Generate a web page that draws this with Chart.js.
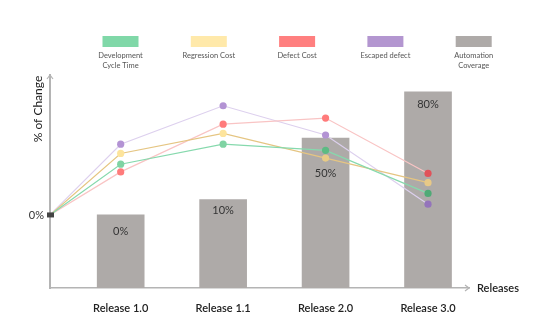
<!DOCTYPE html>
<html>
<head>
<meta charset="utf-8">
<script src="https://cdn.jsdelivr.net/npm/chart.js@4"></script>
<style>
    html, body { margin: 0; padding: 0; background: #fff; }
    #wrap { width: 552px; height: 330px; }
</style>
</head>
<body>
<div id="wrap"><canvas id="releaseChart" width="552" height="330"></canvas></div>
<script>
// Release data
const releases = ['Release 1.0', 'Release 1.1', 'Release 2.0', 'Release 3.0'];
const releaseX = [1, 2, 3, 4];
const startX = 0.31;                       // lines leave from the y axis
const coverage = [0, 10, 50, 80];          // automation coverage (%)
const devCycleTime = [0, 33, 46, 42, 14];
const regressionCost = [0, 40, 53, 37, 21];
const defectCost = [0, 28, 59, 63, 27];
const escapedDefect = [0, 46, 71, 52, 7];
const legendLabels = [['Development', 'Cycle Time'], ['Regression Cost'], ['Defect Cost'], ['Escaped defect'], ['Automation', 'Coverage']];

const Y_MIN = -47.5;
const Y_MAX = 91;
const FONT = 'Lato, "Open Sans", sans-serif';

const colors = {
    dev: { legend: '#80d8a8', line: '#86d9ad', points: ['#7fd3a3', '#7fd3a3', '#5cbb83', '#4faa76'] },
    regression: { legend: '#ffe9aa', line: '#e5c582', points: ['#fde49c', '#fde49c', '#e8cb86', '#e8c987'] },
    defect: { legend: '#ff7f7f', line: '#f9c4c4', points: ['#ff7b7b', '#ff7b7b', '#ff7b7b', '#e0525a'] },
    escaped: { legend: '#b396d0', line: '#ddd0ee', points: ['#b393d4', '#b393d4', '#b393d4', '#9474bb'] },
    bar: '#aeaaa8'
};

function lineData(values) {
    const xs = [startX, ...releaseX];
    return xs.map((x, i) => ({ x, y: values[i] }));
}

function lineDataset(label, values, c, order) {
    return {
        type: 'line',
        label,
        data: lineData(values),
        borderColor: c.line,
        borderWidth: 1.2,
        pointRadius: [0, 3.6, 3.6, 3.6, 3.6],
        pointBackgroundColor: ['transparent', ...c.points],
        pointBorderWidth: 0,
        tension: 0,
        order
    };
}

const barLabelOffsets = [17, 11, 35, 13];

const decorations = {
    id: 'decorations',
    afterDatasetsDraw(chart) {
        const { ctx, chartArea, scales } = chart;
        const x = scales.x, y = scales.y;
        ctx.save();

        // values on the coverage bars
        ctx.font = '11px ' + FONT;
        ctx.fillStyle = '#333';
        ctx.textAlign = 'center';
        ctx.textBaseline = 'middle';
        coverage.forEach((v, i) => {
            ctx.fillText(v + '%', x.getPixelForValue(releaseX[i]), y.getPixelForValue(v) + barLabelOffsets[i]);
        });

        // marker at the origin
        const oy = y.getPixelForValue(0);
        ctx.fillStyle = '#444';
        ctx.fillRect(chartArea.left - 3, oy - 2.5, 7, 5);
        ctx.font = '11px ' + FONT;
        ctx.fillStyle = '#333';
        ctx.textAlign = 'right';
        ctx.fillText('0%', chartArea.left - 6, oy + 1);

        // arrow heads
        ctx.strokeStyle = '#b4b4b4';
        ctx.lineWidth = 1.2;
        ctx.beginPath();
        ctx.moveTo(chartArea.left - 3, chartArea.top + 4);
        ctx.lineTo(chartArea.left, chartArea.top);
        ctx.lineTo(chartArea.left + 3, chartArea.top + 4);
        ctx.moveTo(chartArea.right - 4, chartArea.bottom - 3);
        ctx.lineTo(chartArea.right, chartArea.bottom);
        ctx.lineTo(chartArea.right - 4, chartArea.bottom + 3);
        ctx.stroke();

        // axis titles
        ctx.fillStyle = '#222';
        ctx.font = '600 11px ' + FONT;
        ctx.textAlign = 'left';
        ctx.fillText('Releases', chartArea.right + 8, chartArea.bottom);
        ctx.save();
        ctx.translate(38, 109);
        ctx.rotate(-Math.PI / 2);
        ctx.textAlign = 'center';
        ctx.font = '12px ' + FONT;
        ctx.fillText('% of Change', 0, 0);
        ctx.restore();

        // legend
        const swatches = [colors.dev.legend, colors.regression.legend, colors.defect.legend, colors.escaped.legend, colors.bar];
        ctx.font = '7.5px ' + FONT;
        ctx.textAlign = 'center';
        swatches.forEach((c, i) => {
            const cx = 120.5 + i * 88.3;
            ctx.fillStyle = c;
            ctx.fillRect(cx - 18, 36, 36, 11);
            ctx.fillStyle = '#555';
            legendLabels[i].forEach((t, j) => ctx.fillText(t, cx, 56 + j * 9.5));
        });

        ctx.restore();
    }
};

new Chart(document.getElementById('releaseChart'), {
    data: {
        datasets: [
            lineDataset('Development Cycle Time', devCycleTime, colors.dev, 1),
            lineDataset('Regression Cost', regressionCost, colors.regression, 2),
            lineDataset('Defect Cost', defectCost, colors.defect, 3),
            lineDataset('Escaped defect', escapedDefect, colors.escaped, 4),
            {
                type: 'bar',
                label: 'Automation Coverage',
                data: releaseX.map((x, i) => ({ x, y: coverage[i] })),
                base: Y_MIN,
                backgroundColor: colors.bar,
                barThickness: 47,
                order: 10
            }
        ]
    },
    options: {
        responsive: false,
        animation: false,
        layout: { padding: { left: 26, right: 83, top: 75, bottom: 0 } },
        plugins: { legend: { display: false }, tooltip: { enabled: false } },
        scales: {
            x: {
                type: 'linear',
                min: startX,
                max: 4.4,
                offset: false,
                grid: { display: false },
                border: { color: '#b4b4b4', width: 1.5 },
                afterBuildTicks: s => { s.ticks = releaseX.map(v => ({ value: v })); },
                afterFit: s => { s.height = 42; },
                ticks: {
                    padding: 6,
                    color: '#222',
                    font: { family: FONT, size: 11, weight: '600' },
                    callback: v => releases[v - 1]
                }
            },
            y: {
                min: Y_MIN,
                max: Y_MAX,
                grid: { display: false },
                border: { color: '#b4b4b4', width: 2 },
                afterFit: s => { s.width = 24; },
                ticks: { display: false }
            }
        }
    },
    plugins: [decorations]
});
</script>
</body>
</html>
